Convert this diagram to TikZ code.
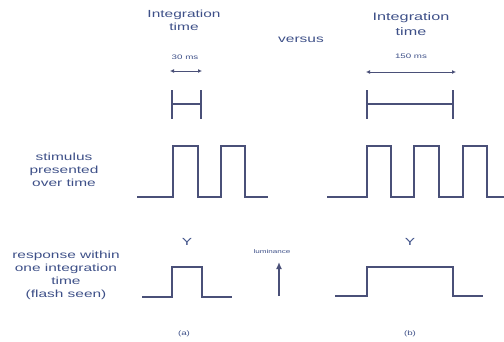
\documentclass[tikz,border=0pt]{standalone}
\usepackage{fontspec}
\setmainfont{Liberation Sans}
\usetikzlibrary{arrows.meta}
\definecolor{txtc}{HTML}{3E5088}
\definecolor{linec}{HTML}{4A5078}
\newcommand{\sx}[1]{\scalebox{1.5}[1]{#1}}
\tikzset{
  lbl/.style={text=txtc, inner sep=0pt, align=center, font=\fontsize{10.3}{13}\selectfont},
  big/.style={lbl, font=\fontsize{10.8}{15}\selectfont},
  small/.style={lbl, font=\fontsize{6.5}{8}\selectfont},
  tiny/.style={lbl, font=\fontsize{5.4}{6}\selectfont},
  wave/.style={draw=linec, line width=2.8pt, line join=miter},
  bar/.style={draw=linec, line width=2.8pt},
  dim/.style={draw=linec, line width=0.8pt, {Latex[length=4pt,width=4pt]}-{Latex[length=4pt,width=4pt]}},
}
\begin{document}
\begin{tikzpicture}[x=1pt,y=-1pt]
\useasboundingbox (0,0) rectangle (504,341);
% titles
\node[lbl] (tl) at (184,20) {\sx{Integration}\\\sx{time}};
\node[big] (tr) at (411,24) {\sx{Integration}\\\sx{time}};
\node[lbl] (vs) at (301,40) {\sx{versus}};
\node[small] (ml) at (185,57) {\sx{30 ms}};
\node[small] (mr) at (411,56) {\sx{150 ms}};
% dimension arrows
\coordinate (al) at (170,71); \coordinate (ar) at (202,71);
\draw[dim] (al) -- (ar);
\coordinate (bl) at (366,72); \coordinate (br) at (456,72);
\draw[dim] (bl) -- (br);
% integration bars
\draw[bar] (172,90) -- (172,119) (201,90) -- (201,119) (172,104) -- (201,104);
\draw[bar] (367,90) -- (367,119) (453,90) -- (453,119) (367,104) -- (453,104);
% row labels
\node[lbl] (sl) at (64,170) {\sx{stimulus}\\\sx{presented}\\\sx{over time}};
\node[lbl] (rl) at (66,275) {\sx{response within}\\\sx{one integration}\\\sx{time}\\\sx{(flash seen)}};
% stimulus waves
\draw[wave] (137,197) -- (173,197) -- (173,146) -- (198,146) -- (198,197) -- (221,197) -- (221,146) -- (245,146) -- (245,197) -- (268,197);
\draw[wave] (327,197) -- (367,197) -- (367,146) -- (391,146) -- (391,197) -- (414,197) -- (414,146) -- (439,146) -- (439,197) -- (463,197) -- (463,146) -- (487,146) -- (487,197) -- (506,197);
% response
\node[lbl] (yl) at (187,242) {\sx{Y}};
\node[lbl] (yr) at (410,242) {\sx{Y}};
\draw[wave] (142,297) -- (172,297) -- (172,267) -- (202,267) -- (202,297) -- (232,297);
\draw[wave] (335,296) -- (367,296) -- (367,267) -- (453,267) -- (453,296) -- (483,296);
% luminance
\node[tiny] (lum) at (272,252) {\sx{luminance}};
\coordinate (lb) at (279,296);
\coordinate (lt) at (279,262);
\draw[draw=linec, line width=1.6pt, -{Latex[length=7pt,width=6pt]}] (lb) -- (lt);
% captions
\node[small] (ca) at (184,334) {\sx{(a)}};
\node[small] (cb) at (410,334) {\sx{(b)}};
\end{tikzpicture}
\end{document}
